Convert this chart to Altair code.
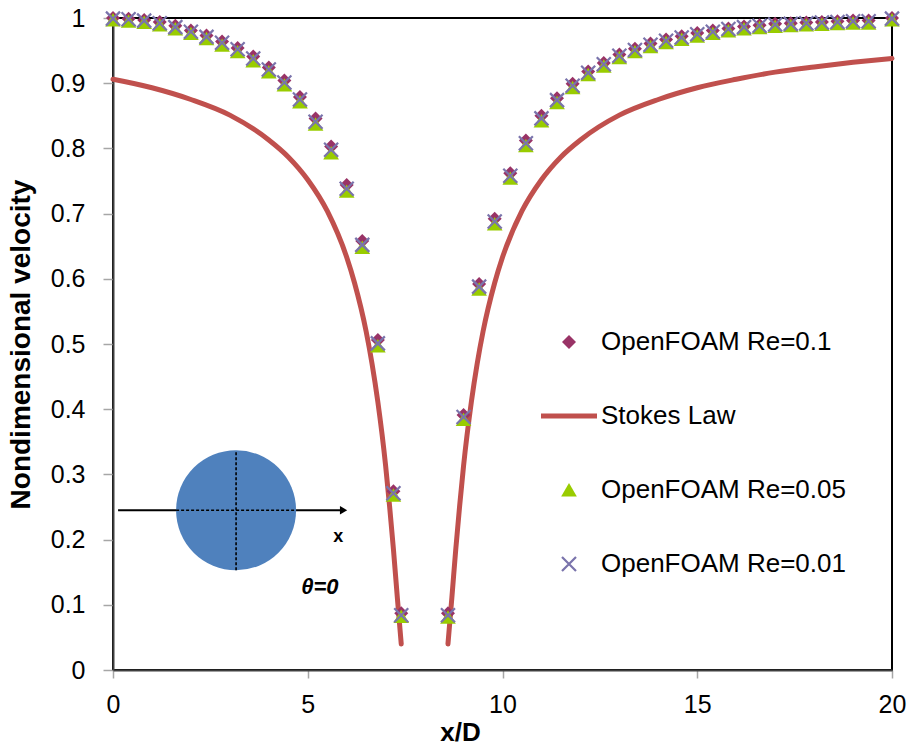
import altair as alt
import pandas as pd

FONT = "Liberation Sans"

# ---------------- data ----------------
x_left = [0.0, 0.4, 0.8, 1.2, 1.6, 2.0, 2.4, 2.8, 3.2, 3.6, 4.0, 4.4, 4.8, 5.2,
          5.6, 6.0, 6.4, 6.8, 7.2, 7.4]
x_right = [8.6, 9.0, 9.4, 9.8, 10.2, 10.6, 11.0, 11.4, 11.8, 12.2, 12.6, 13.0,
           13.4, 13.8, 14.2, 14.6, 15.0, 15.4, 15.8, 16.2, 16.6, 17.0, 17.4,
           17.8, 18.2, 18.6, 19.0, 19.4, 20.0]

re01_left = [1.000, 0.999, 0.997, 0.994, 0.988, 0.981, 0.973, 0.964, 0.954, 0.941,
             0.924, 0.904, 0.879, 0.846, 0.803, 0.744, 0.658, 0.506, 0.274, 0.087]
re005_left = [0.997, 0.995, 0.993, 0.989, 0.983, 0.976, 0.968, 0.958, 0.948, 0.934,
              0.917, 0.897, 0.871, 0.837, 0.793, 0.734, 0.648, 0.497, 0.268, 0.082]
re001_left = [0.999, 0.998, 0.996, 0.992, 0.986, 0.979, 0.971, 0.962, 0.952, 0.938,
              0.921, 0.901, 0.875, 0.841, 0.798, 0.738, 0.652, 0.501, 0.271, 0.084]

re01_right = [0.087, 0.391, 0.592, 0.692, 0.762, 0.812, 0.850, 0.877, 0.899, 0.918,
              0.931, 0.944, 0.953, 0.961, 0.967, 0.972, 0.977, 0.981, 0.984, 0.987,
              0.989, 0.991, 0.992, 0.993, 0.994, 0.995, 0.996, 0.996, 1.000]
re005_right = [0.081, 0.384, 0.584, 0.684, 0.754, 0.804, 0.842, 0.870, 0.893, 0.913,
               0.926, 0.939, 0.948, 0.956, 0.962, 0.967, 0.972, 0.976, 0.980, 0.983,
               0.985, 0.987, 0.988, 0.989, 0.990, 0.991, 0.992, 0.992, 0.997]
re001_right = [0.084, 0.388, 0.588, 0.688, 0.758, 0.808, 0.846, 0.874, 0.896, 0.916,
               0.929, 0.942, 0.951, 0.959, 0.965, 0.970, 0.975, 0.979, 0.983, 0.986,
               0.988, 0.990, 0.991, 0.992, 0.993, 0.994, 0.995, 0.995, 0.999]

stokes_x_left = [0.0, 1.0, 2.0, 3.0, 4.0, 4.5, 5.0, 5.5, 6.0, 6.2, 6.5, 6.65, 6.8,
                 7.0, 7.1, 7.2, 7.3, 7.4]
stokes_left = [0.906, 0.893, 0.875, 0.851, 0.813, 0.787, 0.752, 0.704, 0.633, 0.594,
               0.519, 0.470, 0.411, 0.313, 0.252, 0.185, 0.111, 0.040]
stokes_x_right = [8.6, 8.7, 8.8, 8.9, 9.0, 9.2, 9.35, 9.5, 9.8, 10.0, 10.5, 11.0,
                  11.5, 12.0, 13.0, 14.0, 15.0, 16.0, 17.0, 18.0, 19.0, 20.0]
stokes_right = [0.040, 0.111, 0.185, 0.252, 0.313, 0.411, 0.470, 0.519, 0.594, 0.633,
                0.704, 0.752, 0.787, 0.813, 0.851, 0.875, 0.893, 0.906, 0.917, 0.925,
                0.932, 0.938]

series_names = ["OpenFOAM Re=0.1", "Stokes Law", "OpenFOAM Re=0.05", "OpenFOAM Re=0.01"]
series_colors = ["#993366", "#C0504D", "#99CC00", "#7A74AC"]

x_ticks = [0, 5, 10, 15, 20]
y_ticks = [0, 0.1, 0.2, 0.3, 0.4, 0.5, 0.6, 0.7, 0.8, 0.9, 1.0]

# inset sketch (cylinder in a flow, theta = 0), in data units
inset_circle_x = [3.16]
inset_circle_y = [0.245]
inset_arrow_x = [0.13]
inset_arrow_x2 = [5.92]
inset_arrow_y = [0.245]
inset_dash_h = {"x": [1.62], "x2": [4.70], "y": [0.245]}
inset_dash_v = {"x": [3.16], "y": [0.153], "y2": [0.337]}
inset_labels = ["x", "θ=0"]
inset_label_x = [5.78, 5.31]
inset_label_y = [0.204, 0.127]

# ---------------- tables ----------------
rows = []
for name, yl, yr in [(series_names[0], re01_left, re01_right),
                     (series_names[2], re005_left, re005_right),
                     (series_names[3], re001_left, re001_right)]:
    for xv, yv in zip(x_left + x_right, yl + yr):
        rows.append({"x": xv, "y": yv, "series": name})
points_df = pd.DataFrame(rows)

stokes_df = pd.DataFrame(
    [{"x": a, "y": b, "branch": "left"} for a, b in zip(stokes_x_left, stokes_left)]
    + [{"x": a, "y": b, "branch": "right"} for a, b in zip(stokes_x_right, stokes_right)]
)

# symbol paths (unit box -1..1, drawn at size 3136 => 56 px box)
DIAMOND = "M0,-0.25L0.25,0L0,0.25L-0.25,0Z"
LINE = "M-1,-0.09L1,-0.09L1,0.09L-1,0.09Z"
TRIANGLE = "M0,-0.25L0.28,0.23L-0.28,0.23Z"
CROSS = ("M-0.222,-0.278L0.278,0.222L0.222,0.278L-0.278,-0.222Z"
         "M-0.278,0.222L0.222,-0.278L0.278,-0.222L-0.222,0.278Z")
series_shapes = [DIAMOND, LINE, TRIANGLE, CROSS]

# ---------------- encodings ----------------
xs = alt.Scale(domain=[0, 20], nice=False, zero=False)
ys = alt.Scale(domain=[0, 1], nice=False, zero=False)

xaxis = alt.Axis(
    title="x/D", values=x_ticks, grid=False, tickSize=8, tickColor="#A6A6A6",
    tickWidth=1.5, domainColor="#404040", domainWidth=2, labelFontSize=25,
    labelFont=FONT, labelColor="black", labelPadding=14, labelFlush=False,
    labelOverlap=False, titleFont=FONT, titleFontSize=26, titleFontWeight="bold",
    titleColor="black", titleX=347, titleY=70, titleBaseline="alphabetic",
)
yaxis = alt.Axis(
    title="Nondimensional velocity", values=y_ticks, format="~g", grid=False,
    tickSize=10, tickColor="#A6A6A6", tickWidth=1.5, domainColor="#404040",
    domainWidth=2, labelFontSize=25, labelFont=FONT, labelColor="black",
    labelPadding=18, labelFlush=False, labelOverlap=False, titleFont=FONT,
    titleFontSize=28, titleFontWeight="bold", titleColor="black",
    titleX=-92, titleY=326, titleBaseline="middle",
)

X = alt.X("x:Q", scale=xs, axis=xaxis)
Y = alt.Y("y:Q", scale=ys, axis=yaxis)

legend = alt.Legend(
    title=None, orient="none", legendX=428, legendY=296,
    symbolSize=3136, symbolStrokeWidth=0, symbolOpacity=1,
    labelFont=FONT, labelFontSize=26, labelColor="black", labelLimit=0,
    labelOffset=4, rowPadding=33, padding=0,
)

stokes = alt.Chart(stokes_df).mark_line(
    color="#C0504D", strokeWidth=5, strokeCap="round", interpolate="monotone"
).encode(x=X, y=Y, detail="branch:N")

points = alt.Chart(points_df).mark_point(
    filled=True, size=3136, opacity=1, strokeWidth=0
).encode(
    x=X, y=Y,
    color=alt.Color("series:N",
                    scale=alt.Scale(domain=series_names, range=series_colors),
                    legend=legend),
    shape=alt.Shape("series:N",
                    scale=alt.Scale(domain=series_names, range=series_shapes),
                    legend=legend),
    order=alt.Order("idx:Q"),
).transform_window(idx="row_number()")

# inset
arrow = alt.Chart(pd.DataFrame({"x": inset_arrow_x, "x2": inset_arrow_x2, "y": inset_arrow_y})).mark_rule(
    color="black", strokeWidth=2
).encode(x=X, x2="x2:Q", y=Y)

arrow_head = alt.Chart(pd.DataFrame({"x": inset_arrow_x2, "y": inset_arrow_y})).mark_point(
    shape="triangle-right", filled=True, size=70, color="black", opacity=1
).encode(x=X, y=Y)

circle = alt.Chart(pd.DataFrame({"x": inset_circle_x, "y": inset_circle_y})).mark_point(
    shape="circle", filled=True, size=14400, color="#4F81BD", opacity=1
).encode(x=X, y=Y)

dash_h = alt.Chart(pd.DataFrame(inset_dash_h)).mark_rule(
    color="black", strokeWidth=1.6, strokeDash=[3, 2]
).encode(x=X, x2="x2:Q", y=Y)

dash_v = alt.Chart(pd.DataFrame(inset_dash_v)).mark_rule(
    color="black", strokeWidth=1.6, strokeDash=[3, 2]
).encode(x=X, y=Y, y2="y2:Q")

labels_df = pd.DataFrame({"x": inset_label_x, "y": inset_label_y, "t": inset_labels})
lab_x = alt.Chart(labels_df.iloc[[0]]).mark_text(
    font=FONT, fontSize=18, fontWeight="bold", color="black"
).encode(x=X, y=Y, text="t:N")
lab_theta = alt.Chart(labels_df.iloc[[1]]).mark_text(
    font=FONT, fontSize=22, fontWeight="bold", fontStyle="italic", color="black"
).encode(x=X, y=Y, text="t:N")

chart = alt.layer(
    arrow, arrow_head, circle, dash_h, dash_v, lab_x, lab_theta, stokes, points
).properties(
    width=779, height=652,
    padding={"left": 113, "top": 18, "right": 16, "bottom": 75},
    autosize=alt.AutoSizeParams(type="none"),
    background="white",
).configure_view(stroke="black", strokeWidth=2)

chart.save("out.html", embed_options={"renderer": "svg", "actions": False})
